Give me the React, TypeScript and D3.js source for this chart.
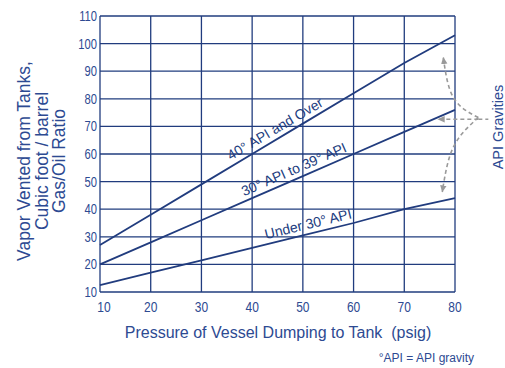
import React from 'react';
import * as d3 from 'd3';

// pressure of vessel dumping to tank (psig)
const pressures = [10, 20, 30, 40, 50, 60, 70, 80];
// vapor vented, cubic foot / barrel
const api40Over = [27, 38, 49, 60, 71, 82, 93, 103];
const api30to39 = [20, 28, 36, 44, 52, 60, 68, 76];
const apiUnder30 = [12.5, 17, 21.5, 26, 30.5, 35, 40, 44];

const xTicks = [10, 20, 30, 40, 50, 60, 70, 80];
const yTicks = [10, 20, 30, 40, 50, 60, 70, 80, 90, 100, 110];

const series = [
  { name: '40° API and Over', values: api40Over, labelAt: 45.5 },
  { name: '30° API to 39° API', values: api30to39, labelAt: 49 },
  { name: 'Under 30° API', values: apiUnder30, labelAt: 51.5 },
];

// "API Gravities" callout, in data units
const calloutFrom = [84.6, 73.2];
const calloutUp = [[84.6, 73.2], [79.7, 80.4], [77.7, 94.9]];
const calloutLeft = [[84.6, 72.6], [76.7, 72.6]];
const calloutDown = [[84.6, 73.2], [79.7, 62.6], [77.5, 46.3]];

const W = 505;
const H = 368;
const NAVY = '#213c7e';
const TEXT = '#2d4a92';
const FONT = '"Liberation Sans", Arial, sans-serif';

// squeeze text horizontally around its anchor x
const squeeze = (ax: number, k: number) => `translate(${ax},0) scale(${k},1) translate(${-ax},0)`;

export default function App() {
  const x = d3.scaleLinear().domain([10, 80]).range([100, 455]);
  const y = d3.scaleLinear().domain([10, 110]).range([292, 16]);

  const line = d3.line<number>()
    .x((_, i) => x(pressures[i]))
    .y((d) => y(d));

  const curve = d3.line<number[]>()
    .x((d) => x(d[0]))
    .y((d) => y(d[1]))
    .curve(d3.curveNatural);

  const valueAt = (vals: number[], px: number) => {
    const i = Math.min(Math.floor((px - 10) / 10), vals.length - 2);
    const t = (px - pressures[i]) / 10;
    return vals[i] + (vals[i + 1] - vals[i]) * t;
  };

  return (
    <svg width={W} height={H} style={{ position: 'absolute', left: 0, top: 0, background: '#fff' }}
      fontFamily={FONT}>
      <defs>
        <marker id="arr" viewBox="0 0 10 10" refX="8" refY="5" markerWidth="5" markerHeight="5" orient="auto">
          <path d="M0,1 L9,5 L0,9 z" fill="#9a9a9a" />
        </marker>
      </defs>

      {/* grid */}
      {yTicks.map((t) => (
        <line key={'gy' + t} x1={x(10)} x2={x(80)} y1={y(t)} y2={y(t)} stroke={NAVY} strokeWidth={1.3} />
      ))}
      {xTicks.map((t) => (
        <line key={'gx' + t} x1={x(t)} x2={x(t)} y1={y(10)} y2={y(110)} stroke={NAVY} strokeWidth={1.3} />
      ))}

      {/* tick labels */}
      {yTicks.map((t) => (
        <text key={'ty' + t} x={x(10) - 3} y={y(t)} dy="0.36em" textAnchor="end" fontSize={14}
          fill={TEXT} transform={squeeze(x(10) - 3, 0.8)}>{t}</text>
      ))}
      {xTicks.map((t, i) => {
        const cx = x(t) + (i === 0 ? 4 : 0);
        return (
          <text key={'tx' + t} x={cx} y={y(10) + 15} dy="0.36em" textAnchor="middle" fontSize={15} fill={TEXT}
            transform={squeeze(cx, 0.8)}>{t}</text>
        );
      })}

      {/* series */}
      {series.map((s) => (
        <path key={s.name} d={line(s.values) || ''} fill="none" stroke={NAVY} strokeWidth={1.8} />
      ))}
      {series.map((s) => {
        const i = s.values.length - 1;
        const ang = Math.atan2(y(s.values[i]) - y(s.values[0]), x(pressures[i]) - x(pressures[0])) * 180 / Math.PI;
        const px = x(s.labelAt);
        const py = y(valueAt(s.values, s.labelAt));
        return (
          <text key={'l' + s.name} transform={`translate(${px},${py}) rotate(${ang})`} y={-5}
            textAnchor="middle" fontSize={14} fill={NAVY}>{s.name}</text>
        );
      })}

      {/* callout */}
      <g fill="none" stroke="#9a9a9a" strokeWidth={1.6} strokeDasharray="4,3">
        <path d={curve(calloutUp) || ''} markerEnd="url(#arr)" />
        <path d={curve(calloutLeft) || ''} markerEnd="url(#arr)" />
        <path d={curve(calloutDown) || ''} markerEnd="url(#arr)" />
        <line x1={x(calloutFrom[0])} x2={x(calloutFrom[0]) + 10} y1={y(72.6)} y2={y(72.6)} />
      </g>
      <text transform={`translate(503,127) rotate(-90)`} textAnchor="middle" fontSize={14.5} fill={TEXT}>API Gravities</text>

      {/* axis titles */}
      <g fill={TEXT} fontSize={17.5} textAnchor="middle">
        <text transform="translate(30,161) rotate(-90)">Vapor Vented from Tanks,</text>
        <text transform="translate(47.5,161) rotate(-90)">Cubic foot / barrel</text>
        <text transform="translate(65,161) rotate(-90)">Gas/Oil Ratio</text>
      </g>
      <text x={278} y={338} textAnchor="middle" fontSize={16} fill={TEXT}
        style={{ whiteSpace: 'pre' }}>Pressure of Vessel Dumping to Tank  (psig)</text>
      <text x={474} y={362} textAnchor="end" fontSize={12} fill={TEXT}>°API = API gravity</text>
    </svg>
  );
}
